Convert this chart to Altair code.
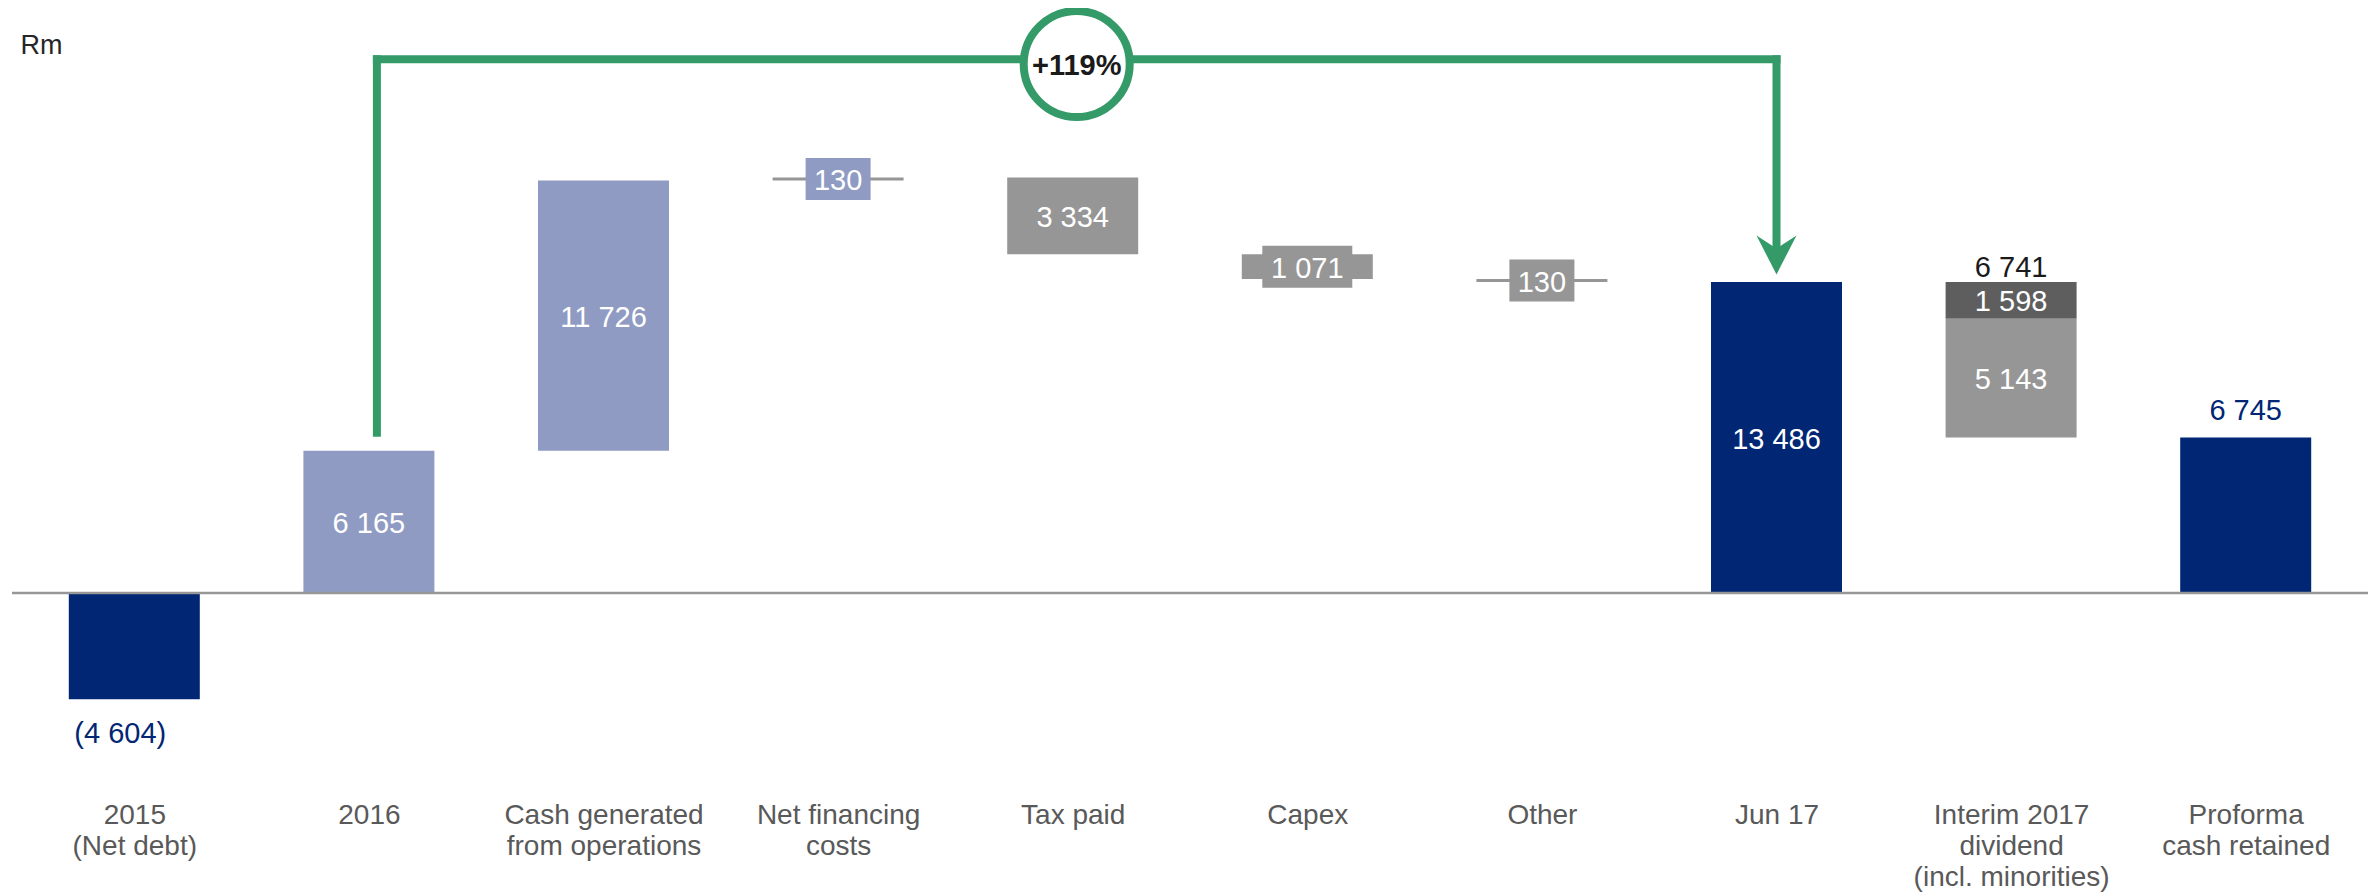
import altair as alt
import pandas as pd

# ---------------- data ----------------
label_lines = [
    ["2015", "(Net debt)"],
    ["2016"],
    ["Cash generated", "from operations"],
    ["Net financing", "costs"],
    ["Tax paid"],
    ["Capex"],
    ["Other"],
    ["Jun 17"],
    ["Interim 2017", "dividend", "(incl. minorities)"],
    ["Proforma", "cash retained"],
]
kinds = ["total", "total", "up", "up", "down", "down", "down", "total", "split", "total"]
amounts = [-4604, 6165, 11726, 130, 3334, 1071, 130, 13486, 6741, 6745]
tones = ["navy", "light", "light", "light", "gray", "gray", "gray", "navy", "gray", "navy"]
dividend_parts = [1598, 5143]
dividend_tones = ["dark", "gray"]

# connector annotation levels (Rm)
bracket_top = 23150
bracket_left_bottom = 6950
arrow_centre = 14680
badge_level = 22940

NAVY = "#002674"
LIGHT = "#8F9BC3"
GRAY = "#969696"
DARK = "#5E5E5E"
GREEN = "#349B68"
FONT = "Liberation Sans"


def fmt(v):
    s = f"{abs(v):,}".replace(",", " ")
    return f"({s})" if v < 0 else s


# ---------------- build waterfall segments ----------------
segs = []
running = 0
for i, (k, a, t) in enumerate(zip(kinds, amounts, tones)):
    if k == "total":
        segs.append(dict(idx=i, start=0, end=a, tone=t, amt=abs(a)))
        running = a
    elif k == "up":
        segs.append(dict(idx=i, start=running, end=running + a, tone=t, amt=a))
        running += a
    elif k == "down":
        segs.append(dict(idx=i, start=running, end=running - a, tone=t, amt=a))
        running -= a
    else:  # split
        for p, pt in zip(dividend_parts, dividend_tones):
            segs.append(dict(idx=i, start=running, end=running - p, tone=pt, amt=p))
            running -= p

df = pd.DataFrame(segs)
df["mid"] = (df["start"] + df["end"]) / 2
df["label"] = df["amt"].map(fmt)
df["bartone"] = [("line" if a < 500 else t) for a, t in zip(df["amt"], df["tone"])]
df["boxed"] = df["amt"] < 1500
df["inside"] = ~df["idx"].isin([0, 9])

outside = pd.DataFrame({
    "idx": [0, 8, 9],
    "y": [amounts[0], amounts[7], amounts[9]],
    "label": [fmt(amounts[0]), fmt(amounts[8]), fmt(amounts[9])],
})

growth = amounts[7] / amounts[1] - 1
badge_text = f"+{growth * 100:.0f}%"

tone_domain = ["navy", "light", "gray", "dark", "line"]
tone_range = [NAVY, LIGHT, GRAY, DARK, GRAY]

W, H = 2356, 778
xs = alt.Scale(domain=[-0.5, 9.5], nice=False, zero=False)
ys = alt.Scale(domain=[-8543, 25195], nice=False, zero=False)

label_expr = "[" + ",".join(
    "[" + ",".join("'" + s + "'" for s in lines) + "]" for lines in label_lines
) + "][datum.value]"

X = alt.X("idx:Q", scale=xs, axis=alt.Axis(
    values=list(range(len(label_lines))), labelExpr=label_expr, title=None,
    ticks=False, domain=False, grid=False, labelPadding=11, labelFontSize=28,
    labelFont=FONT, labelColor="#595959", labelLineHeight=31, labelLimit=0,
    labelOverlap=False, labelBound=False, labelFlush=False))
Y = alt.Y("start:Q", scale=ys, axis=alt.Axis(
    labels=False, ticks=False, domain=False, grid=False, title="Rm",
    titleAngle=0, titleX=8, titleY=41, titleAlign="left", titleBaseline="alphabetic",
    titleFontSize=27, titleFont=FONT, titleColor="#262626", titleFontWeight="normal"))

base = alt.Chart(df)

bars = base.mark_bar(size=131).encode(
    x=X, y=Y, y2="end:Q",
    color=alt.Color("bartone:N", scale=alt.Scale(domain=tone_domain, range=tone_range), legend=None),
)

zero_line = alt.Chart(pd.DataFrame({"z": [0]})).mark_rule(color="#979797", strokeWidth=2.5).encode(
    y=alt.Y("z:Q", scale=ys))

box_color = alt.Color("tone:N", scale=alt.Scale(domain=tone_domain, range=tone_range), legend=None)
boxes_narrow = base.transform_filter("datum.boxed && length(datum.label) <= 3").mark_tick(
    orient="horizontal", size=65, thickness=42, opacity=1).encode(
    x=alt.X("idx:Q", scale=xs), y=alt.Y("mid:Q", scale=ys), color=box_color)
boxes_wide = base.transform_filter("datum.boxed && length(datum.label) > 3").mark_tick(
    orient="horizontal", size=90, thickness=42, opacity=1).encode(
    x=alt.X("idx:Q", scale=xs), y=alt.Y("mid:Q", scale=ys), color=box_color)

inside_text = base.transform_filter("datum.inside").mark_text(
    color="white", fontSize=29, font=FONT, baseline="middle", dy=2).encode(
    x=alt.X("idx:Q", scale=xs), y=alt.Y("mid:Q", scale=ys), text="label:N")

below_text = alt.Chart(outside).transform_filter("datum.idx == 0").mark_text(
    color=NAVY, fontSize=29, font=FONT, baseline="middle", dy=35, dx=-14).encode(
    x=alt.X("idx:Q", scale=xs), y=alt.Y("y:Q", scale=ys), text="label:N")
above_total = alt.Chart(outside).transform_filter("datum.idx == 8").mark_text(
    color="#1A1A1A", fontSize=29, font=FONT, baseline="alphabetic", dy=-5).encode(
    x=alt.X("idx:Q", scale=xs), y=alt.Y("y:Q", scale=ys), text="label:N")
above_prof = alt.Chart(outside).transform_filter("datum.idx == 9").mark_text(
    color=NAVY, fontSize=29, font=FONT, baseline="alphabetic", dy=-17).encode(
    x=alt.X("idx:Q", scale=xs), y=alt.Y("y:Q", scale=ys), text="label:N")

# connector bracket 2016 -> Jun 17
conn_v = pd.DataFrame({"x": [1, 7], "y1": [bracket_left_bottom, arrow_centre], "y2": [bracket_top, bracket_top]})
left_v = alt.Chart(conn_v).transform_filter("datum.x == 1").mark_rule(
    color=GREEN, strokeWidth=8, strokeCap="square", xOffset=8).encode(
    x=alt.X("x:Q", scale=xs), y=alt.Y("y1:Q", scale=ys), y2="y2:Q")
right_v = alt.Chart(conn_v).transform_filter("datum.x == 7").mark_rule(
    color=GREEN, strokeWidth=8, strokeCap="square").encode(
    x=alt.X("x:Q", scale=xs), y=alt.Y("y1:Q", scale=ys), y2="y2:Q")
top_h = alt.Chart(pd.DataFrame({"x1": [1], "x2": [7], "y": [bracket_top]})).mark_rule(
    color=GREEN, strokeWidth=8, strokeCap="square", xOffset=8).encode(
    x=alt.X("x1:Q", scale=xs), x2="x2:Q", y=alt.Y("y:Q", scale=ys))
arrow = alt.Chart(pd.DataFrame({"x": [7], "y": [arrow_centre]})).mark_point(
    shape="M-1,-0.95 L0,1 L1,-0.95 L0,-0.3 Z", size=1600, filled=True, color=GREEN, opacity=1).encode(
    x=alt.X("x:Q", scale=xs), y=alt.Y("y:Q", scale=ys))

badge_df = pd.DataFrame({"x": [(1 + 7) / 2], "y": [badge_level], "t": [badge_text]})
badge = alt.Chart(badge_df).mark_point(
    shape="circle", size=106 * 106, filled=True, fill="white", stroke=GREEN, strokeWidth=8,
    opacity=1, fillOpacity=1, strokeOpacity=1, xOffset=4).encode(
    x=alt.X("x:Q", scale=xs), y=alt.Y("y:Q", scale=ys))
badge_txt = alt.Chart(badge_df).mark_text(
    fontSize=29, fontWeight="bold", font=FONT, color="#1A1A1A", baseline="middle", dy=2, dx=4).encode(
    x=alt.X("x:Q", scale=xs), y=alt.Y("y:Q", scale=ys), text="t:N")

chart = alt.layer(
    bars, zero_line, boxes_narrow, boxes_wide, inside_text, below_text, above_total, above_prof,
    left_v, top_h, right_v, arrow, badge, badge_txt,
).properties(
    width=W, height=H,
    background="white",
    autosize=alt.AutoSizeParams(type="none"),
    padding={"left": 4, "top": 4, "right": 0, "bottom": 105},
).configure_view(strokeWidth=0)

chart.save("out.html", embed_options={"renderer": "svg", "actions": False})
